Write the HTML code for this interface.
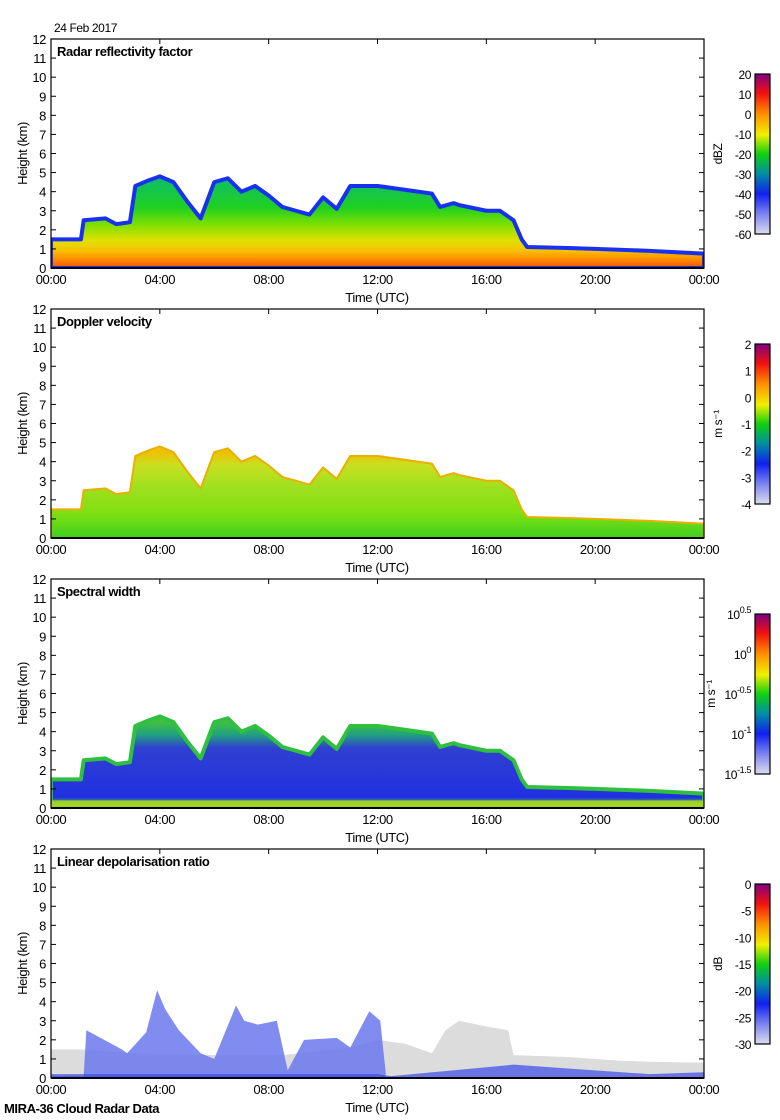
<!DOCTYPE html>
<html><head><meta charset="utf-8">
<style>
body{margin:0;background:#fff;}
svg{display:block;font-family:"Liberation Sans Narrow","Liberation Sans",sans-serif;}
text{letter-spacing:-0.4px;}
</style></head>
<body>
<svg id="chart" width="780" height="1120" viewBox="0 0 780 1120" xmlns="http://www.w3.org/2000/svg">
<defs>
<linearGradient id="cmap" x1="0" y1="1" x2="0" y2="0">
<stop offset="0" stop-color="#dcdcec"/><stop offset="0.12" stop-color="#8088f0"/><stop offset="0.25" stop-color="#1020f0"/>
<stop offset="0.38" stop-color="#0090a0"/><stop offset="0.5" stop-color="#10d010"/><stop offset="0.62" stop-color="#f0f000"/>
<stop offset="0.75" stop-color="#ff9000"/><stop offset="0.88" stop-color="#f01010"/><stop offset="1" stop-color="#800080"/>
</linearGradient>
</defs>
<text x="54" y="32" font-size="12">24 Feb 2017</text>
<text x="4" y="1113" font-size="13" font-weight="bold">MIRA-36 Cloud Radar Data</text>
<g id="panels"></g>
</svg>
<script>
// ---- data ----
const timeTicks = ["00:00","04:00","08:00","12:00","16:00","20:00","00:00"];
const heightTicks = [0,1,2,3,4,5,6,7,8,9,10,11,12];
const panelTitles = ["Radar reflectivity factor","Doppler velocity","Spectral width","Linear depolarisation ratio"];
const cbarUnits = ["dBZ","m s⁻¹","m s⁻¹","dB"];
const cbarLabels0 = ["20","10","0","-10","-20","-30","-40","-50","-60"];
const cbarLabels1 = ["2","1","0","-1","-2","-3","-4"];
const cbarLabels2 = ["10^0.5","10^0","10^-0.5","10^-1","10^-1.5"];
const cbarLabels3 = ["0","-5","-10","-15","-20","-25","-30"];
// cloud top (km) vs time (h)
const cloudTimes = [0,1.1,1.2,2.0,2.4,2.9,3.1,3.6,4.0,4.5,5.0,5.5,6.0,6.5,7.0,7.5,8.0,8.5,9.0,9.5,10.0,10.5,11.0,12.0,13.0,14.0,14.3,14.8,15.0,16.0,16.5,17.0,17.3,17.5,19.0,20.0,21.0,22.0,24.0];
const cloudTops  = [1.5,1.5,2.5,2.6,2.3,2.4,4.3,4.6,4.8,4.5,3.5,2.6,4.5,4.7,4.0,4.3,3.8,3.2,3.0,2.8,3.7,3.1,4.3,4.3,4.1,3.9,3.2,3.4,3.3,3.0,3.0,2.5,1.5,1.1,1.05,1.0,0.95,0.9,0.75];
const ldrTimes = [0,1.2,1.3,2.6,2.8,3.5,3.9,4.2,4.7,5.5,6.0,6.8,7.1,7.6,8.3,8.7,9.3,10.5,11.0,11.7,12.1,12.3];
const ldrTops  = [0.1,0.1,2.5,1.5,1.3,2.4,4.6,3.6,2.5,1.3,1.0,3.8,3.0,2.8,3.0,0.4,2.0,2.1,1.6,3.5,3.0,0.3];
const grayTimes = [0,1.0,3.0,6.0,8.5,11.0,12.0,13.0,14.0,14.5,15.0,16.0,16.8,17.0,19.0,21.0,22.0,24.0];
const grayTops  = [1.5,1.5,1.3,1.2,1.2,1.6,2.0,1.8,1.3,2.5,3.0,2.7,2.5,1.2,1.1,0.9,0.85,0.8];
const lowBlueTimes = [0,12,12.5,17,19,22,24];
const lowBlueTops  = [0.2,0.2,0.1,0.7,0.5,0.2,0.3];

const NS="http://www.w3.org/2000/svg";
const root=document.getElementById('panels');
const X0=51,X1=704;
function xs(h){return X0+(X1-X0)*h/24;}
function mk(tag,attrs,parent){const e=document.createElementNS(NS,tag);for(const k in attrs)e.setAttribute(k,attrs[k]);(parent||root).appendChild(e);return e;}
function polyPts(times,tops,ys){let p=[];p.push(xs(times[0])+","+ys(0));for(let i=0;i<times.length;i++)p.push(xs(times[i])+","+ys(tops[i]));p.push(xs(times[times.length-1])+","+ys(0));return p.join(" ");}

const cbLabels=[cbarLabels0,cbarLabels1,cbarLabels2,cbarLabels3];
for(let p=0;p<4;p++){
  const off=p*270, T=39+off, B=268+off;
  const ys=km=>B-(B-T)*km/12;
  const g=mk('g',{});
  
  
  const defs=mk('defs',{},g);
  const lg=mk('linearGradient',{id:'fg'+p,gradientUnits:'userSpaceOnUse',x1:0,x2:0,y1:ys(0),y2:ys(4.5)},defs);
  let stops;
  if(p==0) stops=[[0,'#f05010'],[0.08,'#ff8000'],[0.2,'#f8c000'],[0.32,'#e0e000'],[0.5,'#80e000'],[0.7,'#20d020'],[1,'#10c060']];
  else if(p==1) stops=[[0,'#40d020'],[0.3,'#80e010'],[0.6,'#a0e020'],[0.85,'#c8e020'],[1,'#f0c000']];
  else stops=[[0,'#c0e000'],[0.06,'#40c040'],[0.12,'#2030e0'],[0.7,'#3040d0'],[0.85,'#20a080'],[1,'#40c040']];
  stops.forEach(s=>mk('stop',{offset:s[0],'stop-color':s[1]},lg));
  const cp=mk('clipPath',{id:'clip'+p},defs);
  mk('rect',{x:X0,y:T,width:X1-X0,height:B-T},cp);
  const cg=mk('g',{'clip-path':'url(#clip'+p+')'},g);
  if(p<3){
    const poly=mk('polygon',{points:polyPts(cloudTimes,cloudTops,ys),fill:'url(#fg'+p+')',
      stroke:p==0?'#1830f0':(p==1?'#e8b000':'#30c040'),'stroke-width':p==0?4:(p==1?2:4),'stroke-linejoin':'round'},cg);
    
    
    if(p==2){
      const band=mk('polygon',{points:polyPts(cloudTimes,cloudTops.map(v=>Math.min(v,0.4)),ys),fill:'#b0d820',opacity:0.8},cg);
      
      
    }
  } else {
    const gp=mk('polygon',{points:polyPts(grayTimes,grayTops,ys),fill:'#dcdcdc'},cg);
    
    
    const bp=mk('polygon',{points:polyPts(ldrTimes,ldrTops,ys),fill:'#6a78ec',opacity:0.85},cg);
    
    
    const lb=mk('polygon',{points:polyPts(lowBlueTimes,lowBlueTops,ys),fill:'#3848e8',opacity:0.7},cg);
    
    
  }
  const ax=mk('rect',{x:X0,y:T,width:X1-X0,height:B-T,fill:'none',stroke:'#000','stroke-width':1.2},g);
  
  
  mk('line',{x1:X0,x2:X1,y1:B,y2:B,stroke:'#000','stroke-width':2},g);
  heightTicks.forEach(h=>{
    const y=ys(h);
    mk('line',{x1:X0,x2:X0+5,y1:y,y2:y,stroke:'#000'},g);
    mk('line',{x1:X1-5,x2:X1,y1:y,y2:y,stroke:'#000'},g);
    const t=mk('text',{x:46,y:y+5,'font-size':13,'text-anchor':'end'},g);
    t.textContent=h;
    
    
  });
  timeTicks.forEach((lab,i)=>{
    const x=xs(i*4);
    mk('line',{x1:x,x2:x,y1:T,y2:T+5,stroke:'#000'},g);
    const t=mk('text',{x:x,y:B+16,'font-size':13,'text-anchor':'middle'},g);
    t.textContent=lab;
    
    
  });
  const xt=mk('text',{x:377,y:B+34,'font-size':13,'text-anchor':'middle'},g);
  xt.textContent='Time (UTC)';
  
  
  const yt=mk('text',{x:27,y:(T+B)/2,'font-size':13,'text-anchor':'middle',transform:'rotate(-90 27 '+((T+B)/2)+')'},g);
  yt.textContent='Height (km)';
  
  
  const tt=mk('text',{x:57,y:T+17,'font-size':13,'font-weight':'bold'},g);
  tt.textContent=panelTitles[p];
  
  
  const cT=74+off,cB=234+off;
  const cb=mk('rect',{x:755,y:cT,width:15,height:cB-cT,fill:'url(#cmap)',stroke:'#000','stroke-width':1.2},g);
  
  
  const labs=cbLabels[p];
  labs.forEach((l,i)=>{
    const y=cT+(cB-cT)*i/(labs.length-1);
    const t=mk('text',{x:751,y:y+5,'font-size':12,'text-anchor':'end'},g);
    
    
    if(l.startsWith('10^')){t.textContent='10';const s=mk('tspan',{dy:-6,'font-size':9},t);s.textContent=l.slice(3);}
    else t.textContent=l;
  });
  const ux=p==2?715:722;
  const u=mk('text',{x:ux,y:(cT+cB)/2,'font-size':12,'text-anchor':'middle',transform:'rotate(-90 '+ux+' '+((cT+cB)/2)+')'},g);
  u.textContent=cbarUnits[p];
  
  
}
</script>
</body></html>
